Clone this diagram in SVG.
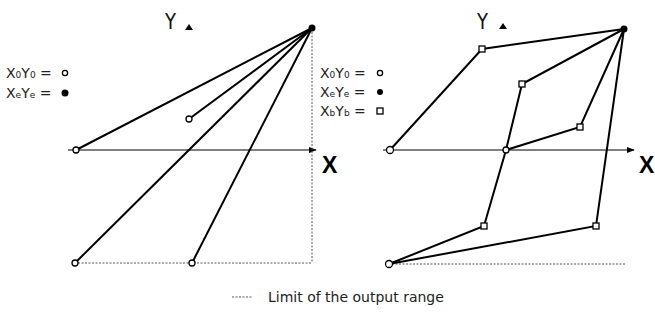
<svg xmlns="http://www.w3.org/2000/svg" width="655" height="325" viewBox="0 0 655 325">
<style>
.ln{stroke:#000;stroke-width:2;fill:none}
.ax{stroke:#000;stroke-width:1;fill:none}
.dot{stroke:#555;stroke-width:1;stroke-dasharray:2,1.5;fill:none}
.oc{fill:#fff;stroke:#000;stroke-width:1.3}
.sq{fill:#fff;stroke:#000;stroke-width:1.3}
.fc{fill:#000}
.t{font-family:"DejaVu Sans","Liberation Sans",sans-serif;font-size:14px;fill:#222}
.y{font-family:"DejaVu Sans","Liberation Sans",sans-serif;font-size:21px;fill:#111}
.big{font-family:"Liberation Sans",Arial,sans-serif;font-size:23px;font-weight:bold;fill:#000}
</style>
<defs>
<marker id="ar" viewBox="0 0 10 10" refX="9" refY="5" markerWidth="8" markerHeight="8" markerUnits="userSpaceOnUse" orient="auto"><path d="M0,1 L10,5 L0,9 z" fill="#000"/></marker>
</defs>
<g id="connectors">
<line class="ax" x1="68" y1="150" x2="316" y2="150" marker-end="url(#ar)"/>
<line class="dot" x1="312" y1="32" x2="312" y2="263"/>
<line class="dot" x1="78" y1="263" x2="312" y2="263"/>
<line class="ln" x1="76" y1="150" x2="312" y2="28"/>
<line class="ln" x1="189" y1="119" x2="312" y2="28"/>
<line class="ln" x1="75" y1="263" x2="312" y2="28"/>
<line class="ln" x1="192" y1="263" x2="312" y2="28"/>
<line class="ax" x1="383" y1="150" x2="634" y2="150" marker-end="url(#ar)"/>
<line class="dot" x1="392" y1="264" x2="626" y2="264"/>
<polyline class="ln" points="390,150 482,49 624,29"/>
<polyline class="ln" points="624,29 522,84 506,150 484,226 389,264"/>
<polyline class="ln" points="624,29 580,127 506,150"/>
<polyline class="ln" points="624,29 596,226 389,264"/>
</g>
<g id="left-panel">
<text class="y" x="165" y="29" textLength="11" lengthAdjust="spacingAndGlyphs">Y</text>
<path d="M185,30 L189,24 L193,30 z" fill="#000"/>
<text class="big" x="322" y="173">X</text>
<circle class="fc" cx="312" cy="28" r="3.5"/>
<circle class="oc" cx="76" cy="150" r="3"/>
<circle class="oc" cx="189" cy="119" r="3"/>
<circle class="oc" cx="75" cy="263" r="3"/>
<circle class="oc" cx="192" cy="263" r="3"/>
</g>
<g id="left-legend">
<text class="t" x="6" y="78">X<tspan font-size="9">0</tspan>Y<tspan font-size="9">0</tspan> = </text>
<circle class="oc" cx="65" cy="73" r="2.6"/>
<text class="t" x="6" y="98">X<tspan font-size="9">e</tspan>Y<tspan font-size="9">e</tspan> = </text>
<circle class="fc" cx="65" cy="93" r="3.5"/>
</g>
<g id="right-panel">
<text class="y" x="477" y="29" textLength="11" lengthAdjust="spacingAndGlyphs">Y</text>
<path d="M499,29 L503,23 L507,29 z" fill="#000"/>
<text class="big" x="639" y="173">X</text>
<circle class="fc" cx="624" cy="29" r="3.5"/>
<circle class="oc" cx="390" cy="150" r="3.5"/>
<circle class="oc" cx="506" cy="150" r="3"/>
<circle class="oc" cx="389" cy="264" r="3.5"/>
<rect class="sq" x="479" y="46" width="6" height="6"/>
<rect class="sq" x="519" y="81" width="6" height="6"/>
<rect class="sq" x="577" y="124" width="6" height="6"/>
<rect class="sq" x="481" y="223" width="6" height="6"/>
<rect class="sq" x="593" y="223" width="6" height="6"/>
</g>
<g id="right-legend">
<text class="t" x="320" y="78">X<tspan font-size="9">0</tspan>Y<tspan font-size="9">0</tspan> = </text>
<circle class="oc" cx="380" cy="73" r="2.6"/>
<text class="t" x="320" y="97">X<tspan font-size="9">e</tspan>Y<tspan font-size="9">e</tspan> = </text>
<circle class="fc" cx="380" cy="92" r="3"/>
<text class="t" x="320" y="116">X<tspan font-size="9">b</tspan>Y<tspan font-size="9">b</tspan> = </text>
<rect class="sq" x="377" y="108" width="6" height="6"/>
</g>
<g id="footer">
<line class="dot" x1="232" y1="297" x2="252" y2="297"/>
<text class="t" x="268" y="302">Limit of the output range</text>
</g>
</svg>
